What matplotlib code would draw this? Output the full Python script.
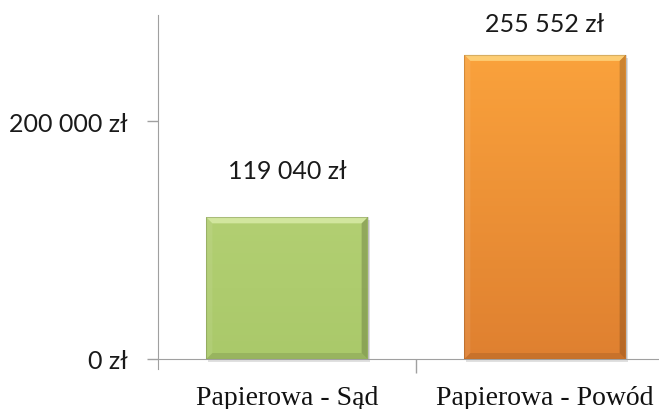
import numpy as np
import matplotlib
matplotlib.use("Agg")
import matplotlib.pyplot as plt
from matplotlib.patches import Polygon, Rectangle
from matplotlib.colors import to_rgb

categories = ["Papierowa - Sąd", "Papierowa - Powód"]
values = [119040, 255552]
value_labels = ["119 040 zł", "255 552 zł"]
tick_values = [0, 200000]
tick_labels = ["0 zł", "200 000 zł"]

# top / bottom shades of each bar's vertical gradient
top_colors = ["#b2cf72", "#faa23c"]
bottom_colors = ["#aac96a", "#df8030"]
bevel_light = ["#d6e9a4", "#fed27a"]

W, H = 659, 410
fig = plt.figure(figsize=(W / 100, H / 100), dpi=100)
ax = fig.add_axes([158 / W, 1 - 360 / H, 1 - 158 / W, (360 - 16) / H])

ymax = 200000 * (360 - 16) / (360 - 122)
ax.set_ylim(0, ymax)
xmax = (W - 158) / 258 - 0.5
ax.set_xlim(-0.5, xmax)

for s in ("top", "right"):
    ax.spines[s].set_visible(False)
ax.spines["left"].set_color("#a0a0a0")
ax.spines["bottom"].set_color("#a0a0a0")
ax.spines["left"].set_position(("data", -0.5))

x = np.arange(len(categories))
bar_w = 0.625
bars = ax.bar(x, values, width=bar_w, color=bottom_colors, zorder=3)

# data units per pixel
px_x = (xmax + 0.5) / (W - 158)
px_y = ymax / (360 - 16)
ax.spines["left"].set_bounds(-10 * px_y, ymax)

for i, b in enumerate(bars):
    x0, y0 = b.get_x(), b.get_y()
    w, h = b.get_width(), b.get_height()
    x1, y1 = x0 + w, y0 + h
    # soft drop shadow
    ax.add_patch(Rectangle((x0 + 2 * px_x, y0 - 3 * px_y), w, h, color="#000000",
                           alpha=0.12, lw=0, zorder=2, clip_on=False))
    # vertical gradient body
    c_top = np.array(to_rgb(top_colors[i]))
    c_bot = np.array(to_rgb(bottom_colors[i]))
    t = np.linspace(0, 1, 256)[:, None]
    grad = c_top * (1 - t) + c_bot * t
    img = ax.imshow(grad[:, None, :].repeat(2, axis=1), extent=[x0, x1, y0, y1],
                    aspect="auto", origin="upper", zorder=4, interpolation="bilinear")
    img.set_clip_path(b)
    # bevel edges
    bx, by = 6 * px_x, 6 * px_y
    top = Polygon([(x0, y1), (x1, y1), (x1 - bx, y1 - by), (x0 + bx, y1 - by)],
                  closed=True, color=bevel_light[i], alpha=0.9, lw=0, zorder=5)
    bot = Polygon([(x0, y0), (x1, y0), (x1 - bx, y0 + by), (x0 + bx, y0 + by)],
                  closed=True, color="#000000", alpha=0.10, lw=0, zorder=5)
    left = Polygon([(x0, y0), (x0, y1), (x0 + bx, y1 - by), (x0 + bx, y0 + by)],
                   closed=True, color="#ffffff", alpha=0.08, lw=0, zorder=5)
    right = Polygon([(x1, y0), (x1, y1), (x1 - bx, y1 - by), (x1 - bx, y0 + by)],
                    closed=True, color="#000000", alpha=0.18, lw=0, zorder=5)
    for p in (top, bot, left, right):
        ax.add_patch(p)
    ax.add_patch(Rectangle((x0, y0), w, h, fill=False, ec="#000000", alpha=0.15,
                           lw=0.8, zorder=6))
    # value label above the bar, kept inside the plot area
    ly = min(values[i] + 47 * px_y, ymax - 9 * px_y)
    ax.text(x[i], ly, value_labels[i], ha="center", va="center",
            fontsize=18, family="Lato", color="#1a1a1a", zorder=7, clip_on=False)

ax.set_yticks(tick_values)
ax.set_yticklabels(tick_labels, family="Lato", fontsize=18, color="#1a1a1a")
ax.set_xticks([0.5])
ax.set_xticklabels([""])
ax.tick_params(axis="y", length=8, width=1, color="#a0a0a0", pad=14)
ax.tick_params(axis="x", length=10, width=1, color="#a0a0a0")

for i, c in enumerate(categories):
    ax.text(x[i], -45 * px_y, c, ha="center", va="baseline", family="Liberation Serif",
            fontsize=20, color="#111111", clip_on=False)

fig.savefig("out.png", dpi=100)
